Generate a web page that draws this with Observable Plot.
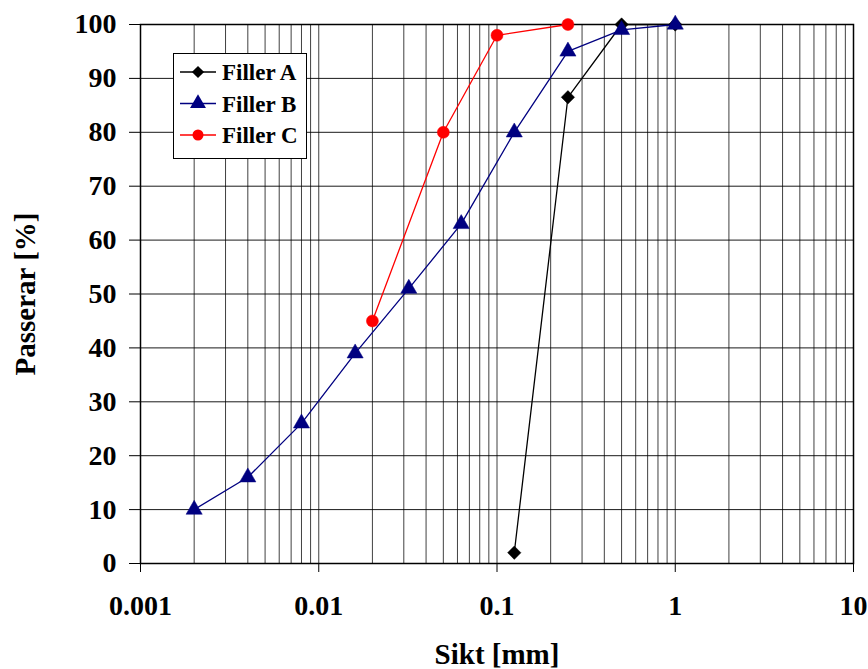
<!DOCTYPE html>
<html>
<head>
<meta charset="utf-8">
<script src="https://cdn.jsdelivr.net/npm/d3@7"></script>
<script src="https://cdn.jsdelivr.net/npm/@observablehq/plot@0.6"></script>
<style>
  html, body { margin: 0; padding: 0; background: #fff; }
  #wrap { position: relative; width: 868px; height: 669px; font-family: "Liberation Serif", "Times New Roman", serif; }
  #legend { position: absolute; left: 173px; top: 53px; }
</style>
</head>
<body>
<div id="wrap"></div>
<script>
const seriesNames = ["Filler A", "Filler B", "Filler C"];
const seriesColors = ["#000000", "#000080", "#ff0000"];
const seriesSymbols = ["diamond2", "triangle", "circle"];

const fillerA_x = [0.125, 0.25, 0.5, 1];
const fillerA_y = [2, 86.5, 100, 100];
const fillerB_x = [0.002, 0.004, 0.008, 0.016, 0.032, 0.063, 0.125, 0.25, 0.5, 1];
const fillerB_y = [10, 16, 26, 39, 51, 63, 80, 95, 99, 100];
const fillerC_x = [0.02, 0.05, 0.1, 0.25];
const fillerC_y = [45, 80, 98, 100];

const xTicks = [0.001, 0.01, 0.1, 1, 10];
const xTickLabels = ["0.001", "0.01", "0.1", "1", "10"];
const yTicks = [0, 10, 20, 30, 40, 50, 60, 70, 80, 90, 100];

const series = [
  {name: seriesNames[0], xs: fillerA_x, ys: fillerA_y},
  {name: seriesNames[1], xs: fillerB_x, ys: fillerB_y},
  {name: seriesNames[2], xs: fillerC_x, ys: fillerC_y}
];
const data = series.flatMap(s => s.xs.map((x, i) => ({series: s.name, x, y: s.ys[i]})));

const minorX = [];
for (let e = -3; e < 1; e++) for (let m = 1; m <= 9; m++) minorX.push(m * Math.pow(10, e));
minorX.push(10);

const font = '"Liberation Serif", "Times New Roman", serif';

const chart = Plot.plot({
  width: 868,
  height: 669,
  marginLeft: 140,
  marginRight: 15,
  marginTop: 24,
  marginBottom: 106,
  style: {fontFamily: font, fontWeight: "bold", fontSize: "28px", color: "#000", background: "#fff", overflow: "visible"},
  x: {type: "log", domain: [0.001, 10]},
  y: {domain: [0, 100]},
  color: {domain: seriesNames, range: seriesColors},
  symbol: {domain: seriesNames, range: seriesSymbols},
  marks: [
    Plot.gridX(minorX, {stroke: "#000", strokeOpacity: 0.75, strokeWidth: 1}),
    Plot.gridY(yTicks, {stroke: "#000", strokeOpacity: 0.9, strokeWidth: 1}),
    Plot.frame({stroke: "#000", strokeWidth: 1.5}),
    Plot.axisX(xTicks, {tickSize: 9, tickPadding: 23, tickFormat: d => xTickLabels[xTicks.indexOf(d)], fontSize: 28, fontWeight: "bold", fontFamily: font, label: null}),
    Plot.axisY(yTicks, {tickSize: 11, tickPadding: 13, fontSize: 28, fontWeight: "bold", fontFamily: font, label: null}),
    Plot.line(data, {x: "x", y: "y", z: "series", stroke: "series", strokeWidth: 1.3}),
    Plot.dot(data, {x: "x", y: "y", fill: "series", stroke: "series", symbol: "series", r: 6, strokeWidth: 0.5}),
    Plot.text(["Sikt [mm]"], {frameAnchor: "bottom", dy: 100, fontSize: 29, fontWeight: "bold", fontFamily: font}),
    Plot.text(["Passerar [%]"], {frameAnchor: "left", dx: -115, rotate: -90, textAnchor: "middle", fontSize: 29, fontWeight: "bold", fontFamily: font})
  ]
});
document.getElementById("wrap").appendChild(chart);

// Legend
const lg = d3.select("#wrap").append("svg").attr("id", "legend").attr("width", 135).attr("height", 107);
lg.append("rect").attr("x", 0.5).attr("y", 0.5).attr("width", 133).attr("height", 105)
  .attr("fill", "#fff").attr("stroke", "#000").attr("stroke-width", 1);
seriesNames.forEach((name, i) => {
  const cy = 19 + i * 31.5;
  const g = lg.append("g");
  g.append("line").attr("x1", 7).attr("x2", 43).attr("y1", cy).attr("y2", cy)
    .attr("stroke", seriesColors[i]).attr("stroke-width", 1.3);
  const sym = i === 0 ? d3.symbolDiamond2 : i === 1 ? d3.symbolTriangle : d3.symbolCircle;
  g.append("path").attr("d", d3.symbol(sym, i === 1 ? 110 : 95)()).attr("transform", `translate(25,${cy})`)
    .attr("fill", seriesColors[i]);
  g.append("text").attr("x", 49).attr("y", cy).attr("dy", "0.35em")
    .attr("font-family", font).attr("font-weight", "bold").attr("font-size", 23).text(name);
});
</script>
</body>
</html>
